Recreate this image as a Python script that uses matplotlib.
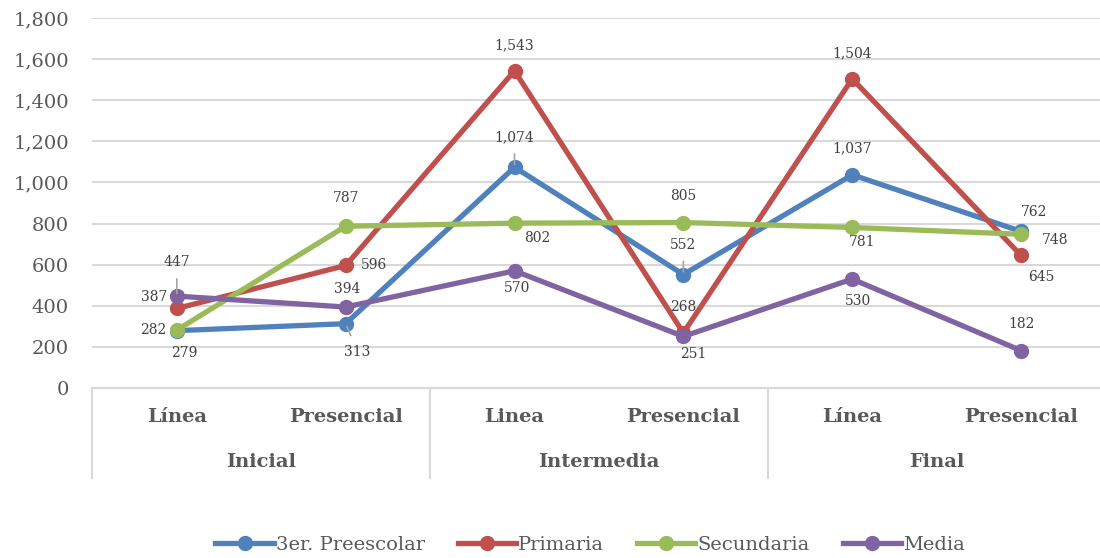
import matplotlib
matplotlib.use("Agg")
import matplotlib.pyplot as plt
from matplotlib.ticker import FuncFormatter
from matplotlib.lines import Line2D

plt.rcParams['font.family'] = ['DejaVu Serif']

# data
subcats = ["Línea", "Presencial", "Linea", "Presencial", "Línea", "Presencial"]
groups = ["Inicial", "Intermedia", "Final"]
series_names = ["3er. Preescolar", "Primaria", "Secundaria", "Media"]
preescolar = [279, 313, 1074, 552, 1037, 762]
primaria = [387, 596, 1543, 268, 1504, 645]
secundaria = [282, 787, 802, 805, 781, 748]
media = [447, 394, 570, 251, 530, 182]
colors = ["#4F81BD", "#C0504D", "#9BBB59", "#8064A2"]

# label offsets in pixels (dx, dy), and whether a leader line is drawn
offsets = [
    [(7, -22, False), (12, -28, True), (0, 30, True), (0, 30, True), (0, 27, False), (13, 19, False)],
    [(-23, 11, False), (28, 0, False), (0, 26, False), (0, 26, False), (0, 26, False), (20, -22, False)],
    [(-24, 0, False), (0, 28, False), (23, -15, False), (0, 27, False), (10, -15, False), (34, -6, False)],
    [(0, 34, True), (2, 18, False), (3, -17, False), (10, -18, False), (6, -22, False), (0, 27, False)],
]

fig = plt.figure(figsize=(11, 5.58), dpi=100)
ax = fig.add_axes([0.084, 1 - 388 / 558, 1.005 - 0.084, 370 / 558])

x = list(range(len(subcats)))
all_series = [preescolar, primaria, secundaria, media]
for vals, col, name, offs in zip(all_series, colors, series_names, offsets):
    ax.plot(x, vals, color=col, lw=3.8, marker='o', ms=10, label=name, solid_capstyle='round')
    for xi, v, (dx, dy, lead) in zip(x, vals, offs):
        kw = {}
        if lead:
            kw['arrowprops'] = dict(arrowstyle='-', color='#A6A6A6', lw=1.2, shrinkA=5, shrinkB=2)
        ax.annotate(f"{v:,}", (xi, v), xytext=(dx, dy), textcoords='offset pixels',
                    ha='center', va='center', fontsize=10, color='#404040', **kw)

ax.set_xlim(-0.5, 5.5)
ax.set_ylim(0, 1800)
ax.set_yticks(range(0, 1801, 200))
ax.yaxis.set_major_formatter(FuncFormatter(lambda v, p: f"{int(v):,}"))
ax.tick_params(axis='y', length=0, pad=17, labelsize=14, labelcolor='#595959')
ax.set_xticks([])
ax.grid(axis='y', color='#D9D9D9', lw=1.5)
ax.set_axisbelow(True)
for s in ['top', 'right', 'left']:
    ax.spines[s].set_visible(False)
ax.spines['bottom'].set_color('#D9D9D9')
ax.spines['bottom'].set_linewidth(1.5)

trans = ax.get_xaxis_transform()
for xd in [-0.5, 1.5, 3.5, 5.5]:
    ax.plot([xd, xd], [0, -0.243], transform=trans, color='#D9D9D9', lw=1.5, clip_on=False)
for xi, lab in zip(x, subcats):
    ax.text(xi, -0.078, lab, transform=trans, ha='center', va='center',
            fontsize=14, fontweight='bold', color='#595959')
for gi, g in enumerate(groups):
    ax.text(2 * gi + 0.5, -0.2, g, transform=trans, ha='center', va='center',
            fontsize=14, fontweight='bold', color='#595959')

handles = [Line2D([], [], color=c, lw=3.8, marker='o', ms=10) for c in colors]
fig.legend(handles, series_names, loc='center', bbox_to_anchor=(590 / 1100, 1 - 545 / 558),
           ncol=4, frameon=False, fontsize=14, labelcolor='#595959',
           handlelength=3.0, handletextpad=0.1, columnspacing=1.7)

fig.savefig("out.png", dpi=100)
